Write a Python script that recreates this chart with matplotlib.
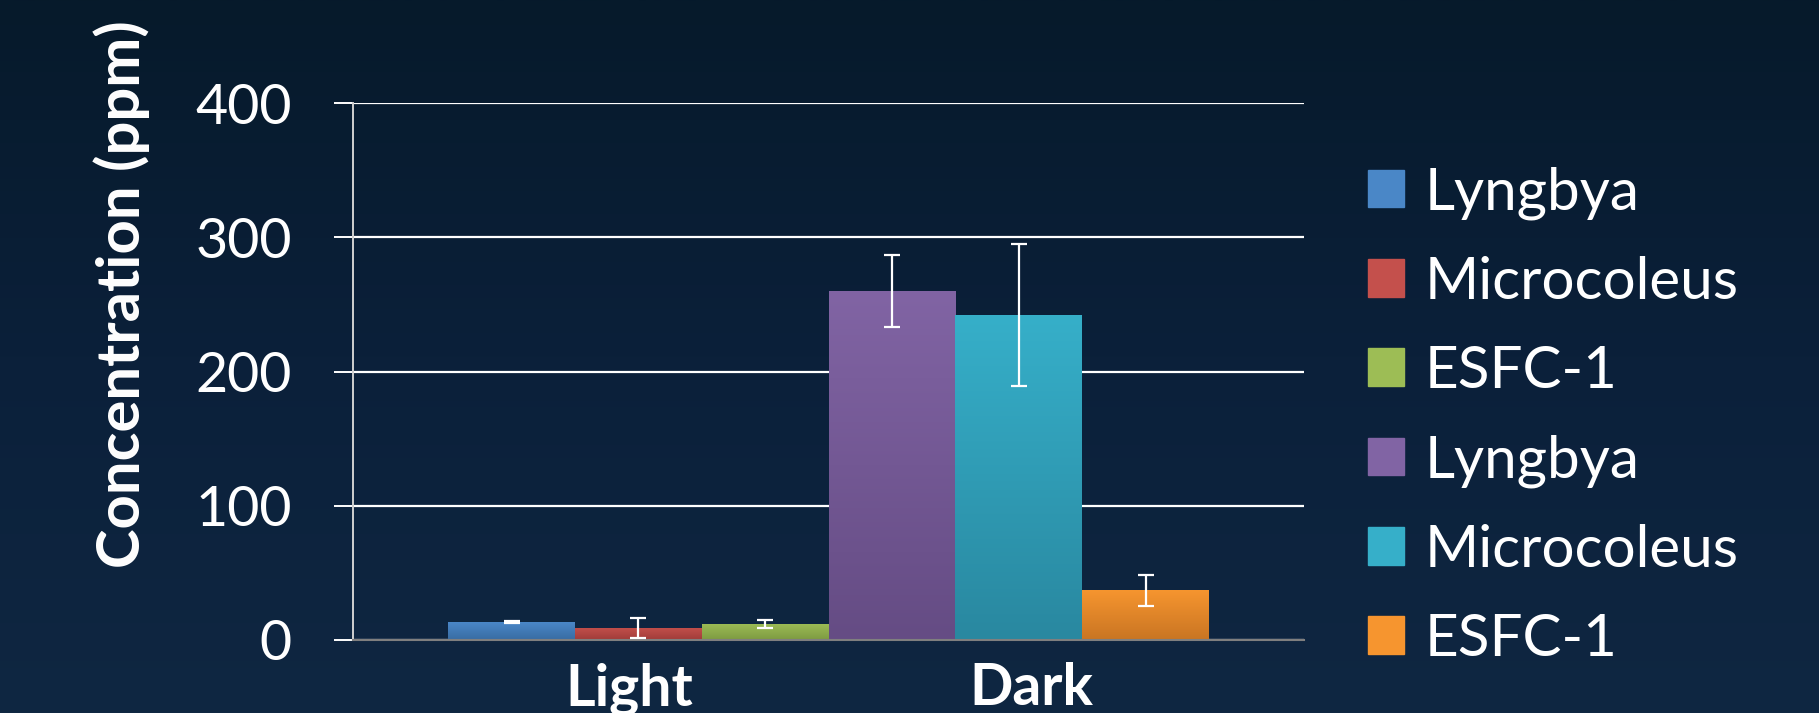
import matplotlib.pyplot as plt
import numpy as np
from matplotlib.colors import LinearSegmentedColormap

# data
groups = ["Light", "Dark"]
group_pos = [0.93, 4.1]
series = ["Lyngbya", "Microcoleus", "ESFC-1", "Lyngbya", "Microcoleus", "ESFC-1"]
values = [13.4, 9.0, 12.0, 260.0, 242.0, 37.0]
errors = [1.0, 7.5, 2.7, 26.5, 53.0, 11.5]

# top colour, bottom colour for each bar
tops = ["#4a87c7", "#c4504c", "#9dbd55", "#8164a4", "#36afc9", "#f6952f"]
bottoms = ["#386ca3", "#a03c39", "#7d9a42", "#654c84", "#2988a0", "#c97523"]

plt.rcParams["font.family"] = ["Lato", "DejaVu Sans"]

fig = plt.figure(figsize=(18.19, 7.13), dpi=100)

# gradient background
bg = fig.add_axes([0, 0, 1, 1], zorder=-10)
bg_cmap = LinearSegmentedColormap.from_list("bg", ["#0f2742", "#0b203a", "#061a2b"])
bg.imshow(np.linspace(0, 1, 256)[:, None], aspect="auto", cmap=bg_cmap,
          extent=[0, 1, 0, 1], origin="lower")
bg.axis("off")

ax = fig.add_axes([353 / 1819, 73 / 713, 951 / 1819, 537 / 713])
ax.set_facecolor("none")

x = np.arange(len(values))
bars = ax.bar(x, values, width=1.0, color=tops, zorder=2)

# vertical gradient inside each bar
for bar, c_top, c_bot in zip(bars, tops, bottoms):
    cm = LinearSegmentedColormap.from_list("b", [c_bot, c_top])
    x0, y0 = bar.get_x(), bar.get_y()
    im = ax.imshow(np.linspace(0, 1, 128)[:, None], aspect="auto", cmap=cm,
                   extent=[x0, x0 + bar.get_width(), y0, y0 + bar.get_height()],
                   origin="lower", zorder=2.5)
    im.set_clip_path(bar)

ax.errorbar(x, values, yerr=errors, fmt="none", ecolor="white",
            elinewidth=1.6, capsize=6, capthick=1.6, zorder=4)

ax.set_xlim(-1.25, 6.25)
ax.set_ylim(0, 400)
ax.set_yticks([0, 100, 200, 300, 400])
ax.yaxis.grid(True, color="white", linewidth=1.6, zorder=1)
ax.set_axisbelow(True)

ax.set_xticks(group_pos)
ax.set_xticklabels(groups, fontsize=41, fontweight="bold", color="white")
ax.tick_params(axis="x", length=0, pad=16)
ax.tick_params(axis="y", length=14, width=1.4, color="white", pad=30,
               labelsize=40, labelcolor="white", direction="out")

for s in ["top", "right"]:
    ax.spines[s].set_visible(False)
ax.spines["left"].set_color("#d0d0d0")
ax.spines["left"].set_linewidth(1.4)
ax.spines["bottom"].set_color("#7f7f7f")
ax.spines["bottom"].set_linewidth(1.5)

ax.set_ylabel("Concentration (ppm)", fontsize=43, fontweight="bold",
              color="white", va="center")
ax.yaxis.set_label_coords(-0.243, 0.645)

handles = [plt.Rectangle((0, 0), 1, 1, color=c) for c in tops]
leg = ax.legend(handles, series, loc="upper left",
                bbox_to_anchor=(1368 / 1819, 1 - 166 / 713),
                bbox_transform=fig.transFigure, frameon=False, fontsize=42,
                handlelength=0.62, handleheight=0.62, handletextpad=0.35,
                labelspacing=0.62, borderpad=0, borderaxespad=0)
for t in leg.get_texts():
    t.set_color("white")

fig.savefig("out.png", dpi=100)
